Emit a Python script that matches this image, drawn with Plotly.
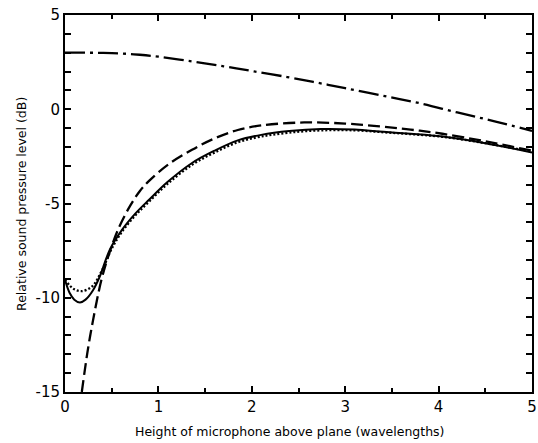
import plotly.graph_objects as go

# Dash-dot curve
x_dashdot = [0.0, 0.2, 0.4, 0.6, 0.8, 1.0, 1.36, 1.7, 2.0, 2.38, 2.7, 3.0, 3.4, 3.79, 4.2, 4.6, 5.0]
y_dashdot = [3.0, 3.0, 2.99, 2.96, 2.89, 2.79, 2.54, 2.28, 2.03, 1.71, 1.41, 1.12, 0.72, 0.33, -0.17, -0.64, -1.15]

# Dashed curve
x_dashed = [0.18, 0.24, 0.30, 0.39, 0.48, 0.58, 0.70, 0.80, 0.90, 1.1, 1.36, 1.6, 1.85, 2.1, 2.56, 3.0, 3.37, 3.7, 4.04, 4.5, 5.0]
y_dashed = [-15.0, -12.9, -11.2, -9.05, -7.55, -6.25, -5.1, -4.35, -3.8, -2.95, -2.15, -1.55, -1.1, -0.86, -0.70, -0.76, -0.91, -1.08, -1.30, -1.70, -2.2]

# Solid curve
x_solid = [0.0, 0.05, 0.10, 0.16, 0.22, 0.30, 0.37, 0.48, 0.61, 0.75, 0.90, 1.1, 1.36, 1.6, 1.85, 2.1, 2.4, 2.74, 3.1, 3.41, 3.7, 4.04, 4.5, 5.0]
y_solid = [-9.05, -9.75, -10.1, -10.25, -10.1, -9.6, -8.9, -7.45, -6.4, -5.55, -4.8, -3.85, -2.85, -2.2, -1.65, -1.36, -1.16, -1.05, -1.08, -1.2, -1.3, -1.45, -1.8, -2.3]

# Dotted curve
x_dotted = [0.0, 0.05, 0.10, 0.18, 0.29, 0.40, 0.50, 0.61, 0.75, 0.90, 1.1, 1.36, 1.6, 1.85, 2.1, 2.4, 2.74, 3.1, 3.41, 3.7, 4.04, 4.5, 5.0]
y_dotted = [-9.05, -9.35, -9.55, -9.65, -9.4, -8.5, -7.4, -6.5, -5.65, -4.9, -3.95, -2.95, -2.3, -1.75, -1.45, -1.24, -1.12, -1.12, -1.22, -1.32, -1.46, -1.8, -2.25]

x_ticks = [0, 1, 2, 3, 4, 5]
y_ticks = [5, 0, -5, -10, -15]
y_tick_labels = ["5", "0", "-5", "-10", "-15"]

FONT = "DejaVu Sans"

fig = go.Figure()
fig.add_trace(go.Scatter(x=x_dashdot, y=y_dashdot, mode="lines", line=dict(color="black", width=2.3, dash="20px,5px,3px,5px", shape="spline")))
fig.add_trace(go.Scatter(x=x_dashed, y=y_dashed, mode="lines", line=dict(color="black", width=2.3, dash="12px,5px", shape="spline")))
fig.add_trace(go.Scatter(x=x_dotted, y=y_dotted, mode="lines", line=dict(color="black", width=2.3, dash="2px,2px", shape="spline")))
fig.add_trace(go.Scatter(x=x_solid, y=y_solid, mode="lines", line=dict(color="black", width=2.0, shape="spline")))

fig.update_layout(
    width=538, height=443,
    margin=dict(l=65, r=1, t=15, b=51),
    paper_bgcolor="white", plot_bgcolor="white",
    showlegend=False,
    font=dict(family=FONT, color="black"),
)
fig.update_xaxes(
    range=[0, 5], tickvals=x_ticks, ticktext=[str(t) for t in x_ticks],
    ticks="inside", ticklen=6, tickwidth=1.5, tickcolor="black",
    minor=dict(dtick=0.5, tick0=0, ticks="inside", ticklen=4, tickwidth=1.5, tickcolor="black"),
    showline=True, linecolor="black", linewidth=2, mirror="ticks",
    showgrid=False, zeroline=False, tickfont=dict(size=15, family=FONT),
    ticklabeloverflow="allow",
)
fig.update_yaxes(
    range=[-15, 5], tickvals=y_ticks, ticktext=y_tick_labels,
    ticks="inside", ticklen=6, tickwidth=1.5, tickcolor="black",
    minor=dict(dtick=1, tick0=0, ticks="inside", ticklen=6, tickwidth=1.5, tickcolor="black"),
    showline=True, linecolor="black", linewidth=2, mirror="ticks",
    showgrid=False, zeroline=False, tickfont=dict(size=15, family=FONT), ticklabelstandoff=0,
)
fig.add_annotation(text="Height of microphone above plane (wavelengths)", xref="paper", yref="paper",
                   x=(292 - 65) / 472, y=-(432 - 392) / 377, xanchor="center", yanchor="middle",
                   showarrow=False, font=dict(size=12.5, family=FONT))
fig.add_annotation(text="Relative sound pressure level (dB)", xref="paper", yref="paper",
                   x=-(65 - 21) / 472, y=0.5, xanchor="center", yanchor="middle", textangle=-90,
                   showarrow=False, font=dict(size=12.5, family=FONT))

fig.write_html("out.html")
